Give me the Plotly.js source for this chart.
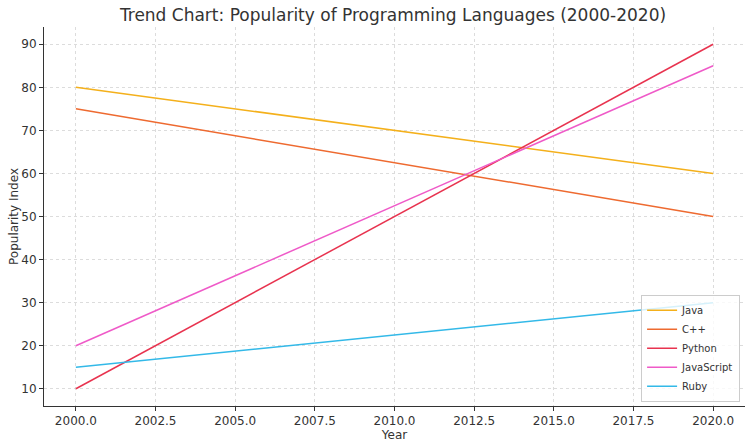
<!DOCTYPE html>
<html><head><meta charset="utf-8">
<script src="https://cdn.plot.ly/plotly-3.0.1.min.js"></script>
<style>html,body{margin:0;padding:0;background:#fff}#chart{width:750px;height:447px}</style>
</head><body><div id="chart"></div>
<script>
const years = [2000, 2020];
const java = [80, 60];
const cpp = [75, 50];
const python = [10, 90];
const javascript = [20, 85];
const ruby = [15, 30];
const names = ["Java", "C++", "Python", "JavaScript", "Ruby"];
const colors = ["#f4b01b", "#ee6a30", "#e8334f", "#ef5ac8", "#33b9e8"];
const series = [java, cpp, python, javascript, ruby];

const traces = series.map((s, i) => ({
  x: years, y: s, name: names[i], type: "scatter", mode: "lines",
  line: {color: colors[i], width: 1.5}
}));

const axisCommon = {
  showline: true, linecolor: "#333", linewidth: 1, mirror: false,
  ticks: "outside", ticklen: 4, tickcolor: "#333",
  showgrid: true, gridcolor: "#dcdcdc", griddash: "dot", gridwidth: 1,
  zeroline: false, tickfont: {family: "DejaVu Sans", size: 12, color: "#333"}
};

const layout = {
  width: 750, height: 447,
  margin: {l: 44, r: 5, t: 27, b: 41},
  paper_bgcolor: "#fff", plot_bgcolor: "#fff",
  title: {text: "Trend Chart: Popularity of Programming Languages (2000-2020)",
    font: {family: "DejaVu Sans", size: 17, color: "#333"}, x: 0.524, xanchor: "center", y: 0.98, yanchor: "top"},
  xaxis: Object.assign({}, axisCommon, {
    range: [1999, 2021], tickvals: [2000, 2002.5, 2005, 2007.5, 2010, 2012.5, 2015, 2017.5, 2020],
    ticktext: ["2000.0", "2002.5", "2005.0", "2007.5", "2010.0", "2012.5", "2015.0", "2017.5", "2020.0"],
    title: {text: "Year", font: {family: "DejaVu Sans", size: 12, color: "#333"}, standoff: 2}
  }),
  yaxis: Object.assign({}, axisCommon, {
    range: [6, 94], tickvals: [10, 20, 30, 40, 50, 60, 70, 80, 90],
    title: {text: "Popularity Index", font: {family: "DejaVu Sans", size: 12, color: "#333"}, standoff: 0}
  }),
  legend: {x: 0.993, y: 0.011, xanchor: "right", yanchor: "bottom",
    bgcolor: "rgba(255,255,255,0.8)", bordercolor: "#ccc", borderwidth: 1,
    font: {family: "DejaVu Sans", size: 10, color: "#333"}, tracegroupgap: 0, itemwidth: 30},
  showlegend: true
};

Plotly.newPlot("chart", traces, layout, {displayModeBar: false, staticPlot: true});
</script></body></html>
